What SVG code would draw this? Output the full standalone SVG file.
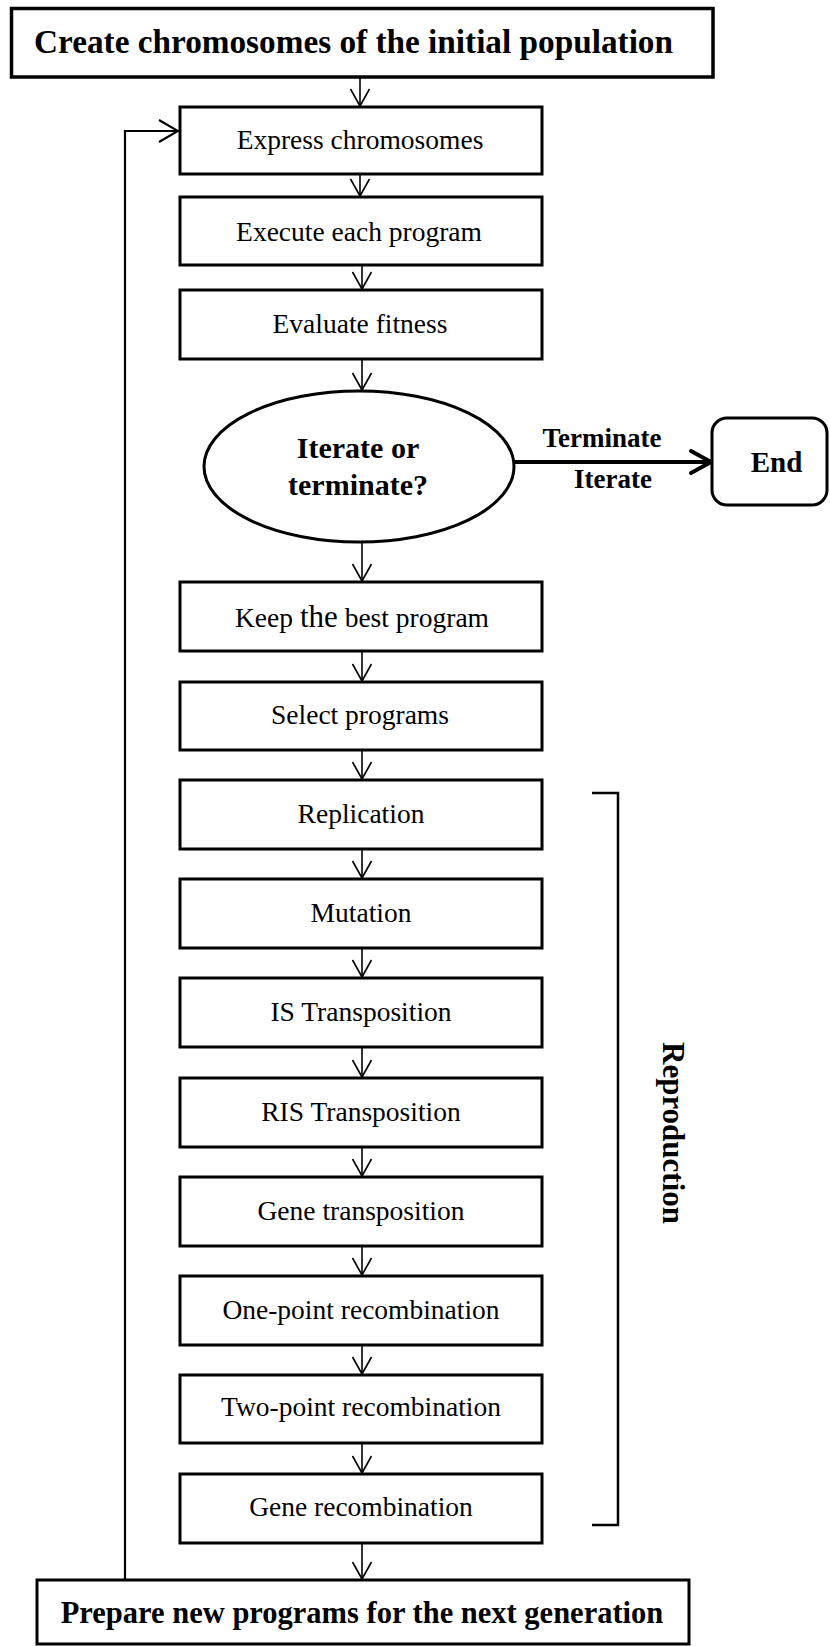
<svg xmlns="http://www.w3.org/2000/svg" width="830" height="1646" viewBox="0 0 830 1646">
<style>
.box{fill:#fff;stroke:#000;stroke-width:3}
.t{font-family:"Liberation Serif","Times New Roman",serif;font-size:27.5px;fill:#000;text-anchor:middle}
.b{font-weight:bold}
.c{fill:none;stroke:#000;stroke-width:1.6}
.ck{fill:none;stroke:#000;stroke-width:2.2}
</style>
<defs>
<marker id="ah" viewBox="-20 -12 22 24" markerWidth="22" markerHeight="24" refX="0" refY="0" orient="auto" markerUnits="userSpaceOnUse"><path d="M-17,-9.5 L0,0 L-17,9.5" fill="none" stroke="#000" stroke-width="1.6"/></marker>
<marker id="ahl" viewBox="-22 -13 24 26" markerWidth="24" markerHeight="26" refX="0" refY="0" orient="auto" markerUnits="userSpaceOnUse"><path d="M-19,-11 L0,0 L-19,11" fill="none" stroke="#000" stroke-width="2.2"/></marker>
<marker id="ahb" viewBox="-25 -15 28 30" markerWidth="28" markerHeight="30" refX="0" refY="0" orient="auto" markerUnits="userSpaceOnUse"><path d="M-20,-11 L0,0 L-20,11" fill="none" stroke="#000" stroke-width="4" stroke-linejoin="round" stroke-linecap="round"/></marker>
</defs>
<rect width="830" height="1646" fill="#fff"/>

<g id="connectors">
<line class="c" x1="360" y1="77" x2="360" y2="106" marker-end="url(#ah)"/>
<line class="c" x1="360" y1="174" x2="360" y2="196" marker-end="url(#ah)"/>
<line class="c" x1="362" y1="265" x2="362" y2="289" marker-end="url(#ah)"/>
<line class="c" x1="362" y1="359" x2="362" y2="390" marker-end="url(#ah)"/>
<line class="c" x1="362" y1="542" x2="362" y2="581" marker-end="url(#ah)"/>
<line class="c" x1="362" y1="651" x2="362" y2="681" marker-end="url(#ah)"/>
<line class="c" x1="362" y1="750" x2="362" y2="779" marker-end="url(#ah)"/>
<line class="c" x1="362" y1="849" x2="362" y2="878" marker-end="url(#ah)"/>
<line class="c" x1="362" y1="948" x2="362" y2="977" marker-end="url(#ah)"/>
<line class="c" x1="362" y1="1047" x2="362" y2="1077" marker-end="url(#ah)"/>
<line class="c" x1="362" y1="1147" x2="362" y2="1176" marker-end="url(#ah)"/>
<line class="c" x1="362" y1="1246" x2="362" y2="1275" marker-end="url(#ah)"/>
<line class="c" x1="362" y1="1345" x2="362" y2="1374" marker-end="url(#ah)"/>
<line class="c" x1="362" y1="1443" x2="362" y2="1473" marker-end="url(#ah)"/>
<line class="c" x1="362" y1="1543" x2="362" y2="1579" marker-end="url(#ah)"/>
<path class="ck" d="M125,1580 L125,131 L178,131" marker-end="url(#ahl)"/>
<line x1="514" y1="462" x2="711" y2="462" stroke="#000" stroke-width="4" marker-end="url(#ahb)"/>
<text class="t b" x="602" y="447" style="font-size:27px">Terminate</text>
<text class="t b" x="613" y="488" style="font-size:27px">Iterate</text>
</g>

<g id="n-create">
<rect x="11.5" y="8.5" width="701.5" height="68.5" fill="#fff" stroke="#000" stroke-width="3.5"/>
<text class="t b" x="353.5" y="53" style="font-size:33px" textLength="639" lengthAdjust="spacingAndGlyphs">Create chromosomes of the initial population</text>
</g>
<g id="n-express"><rect class="box" x="180" y="107" width="362" height="67"/><text class="t" x="360" y="149">Express chromosomes</text></g>
<g id="n-execute"><rect class="box" x="180" y="197" width="362" height="68"/><text class="t" x="359" y="241">Execute each program</text></g>
<g id="n-evaluate"><rect class="box" x="180" y="290" width="362" height="69"/><text class="t" x="360" y="333">Evaluate fitness</text></g>
<g id="n-decision">
<ellipse cx="359" cy="466.5" rx="155" ry="75.5" fill="#fff" stroke="#000" stroke-width="3"/>
<text class="t b" x="358" y="458" style="font-size:30px">Iterate or</text>
<text class="t b" x="358" y="495" style="font-size:30px">terminate?</text>
</g>
<g id="n-end">
<rect x="712" y="418" width="115" height="87" rx="15" ry="15" fill="#fff" stroke="#000" stroke-width="3"/>
<text class="t b" x="776.5" y="472" style="font-size:29px">End</text>
</g>
<g id="n-keep"><rect class="box" x="180" y="582" width="362" height="69"/><text class="t" x="362" y="627">Keep <tspan style="font-size:31px">the</tspan> best program</text></g>
<g id="n-select"><rect class="box" x="180" y="682" width="362" height="68"/><text class="t" x="360" y="724">Select programs</text></g>
<g id="n-replication"><rect class="box" x="180" y="780" width="362" height="69"/><text class="t" x="361" y="823">Replication</text></g>
<g id="n-mutation"><rect class="box" x="180" y="879" width="362" height="69"/><text class="t" x="361" y="922">Mutation</text></g>
<g id="n-is"><rect class="box" x="180" y="978" width="362" height="69"/><text class="t" x="361" y="1021">IS Transposition</text></g>
<g id="n-ris"><rect class="box" x="180" y="1078" width="362" height="69"/><text class="t" x="361" y="1121">RIS Transposition</text></g>
<g id="n-genetrans"><rect class="box" x="180" y="1177" width="362" height="69"/><text class="t" x="361" y="1220">Gene transposition</text></g>
<g id="n-onepoint"><rect class="box" x="180" y="1276" width="362" height="69"/><text class="t" x="361" y="1319">One-point recombination</text></g>
<g id="n-twopoint"><rect class="box" x="180" y="1375" width="362" height="68"/><text class="t" x="361" y="1416">Two-point recombination</text></g>
<g id="n-generecomb"><rect class="box" x="180" y="1474" width="362" height="69"/><text class="t" x="361" y="1516">Gene recombination</text></g>
<g id="n-prepare">
<rect x="37" y="1580" width="652" height="64" fill="#fff" stroke="#000" stroke-width="3"/>
<text class="t b" x="362" y="1623" style="font-size:30.5px">Prepare new programs for the next generation</text>
</g>
<g id="reproduction">
<path d="M592,793 L618,793 L618,1525 L592,1525" fill="none" stroke="#000" stroke-width="2.5"/>
<text class="t b" x="0" y="0" style="font-size:31px" transform="translate(663,1133) rotate(90)">Reproduction</text>
</g>
</svg>
